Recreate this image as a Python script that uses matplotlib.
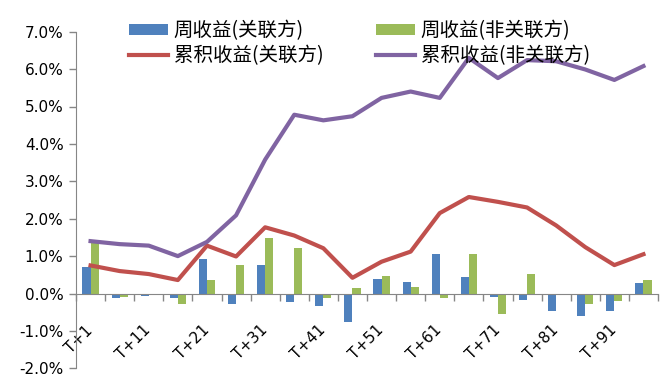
import matplotlib
matplotlib.use('Agg')
import matplotlib.pyplot as plt
import matplotlib.transforms as mtransforms
import numpy as np

plt.rcParams['font.family'] = ['DejaVu Sans', 'Noto Sans CJK SC']

categories = ["T+1", "T+6", "T+11", "T+16", "T+21", "T+26", "T+31", "T+36", "T+41", "T+46",
              "T+51", "T+56", "T+61", "T+66", "T+71", "T+76", "T+81", "T+86", "T+91", "T+96"]
weekly_related = [0.71, -0.13, -0.06, -0.13, 0.93, -0.27, 0.75, -0.22, -0.34, -0.75,
                  0.40, 0.31, 1.05, 0.43, -0.09, -0.18, -0.46, -0.59, -0.46, 0.27]
weekly_nonrelated = [1.35, -0.10, -0.02, -0.27, 0.35, 0.75, 1.49, 1.21, -0.13, 0.15,
                     0.47, 0.18, -0.13, 1.05, -0.55, 0.51, -0.01, -0.27, -0.20, 0.35]
cum_related = [0.75, 0.60, 0.52, 0.36, 1.28, 0.99, 1.77, 1.55, 1.21, 0.42,
               0.85, 1.12, 2.15, 2.58, 2.45, 2.30, 1.82, 1.24, 0.76, 1.05]
cum_nonrelated = [1.40, 1.32, 1.28, 1.00, 1.38, 2.09, 3.58, 4.78, 4.63, 4.74,
                  5.23, 5.40, 5.23, 6.30, 5.76, 6.24, 6.21, 5.99, 5.71, 6.08]
series_names = ["周收益(关联方)", "周收益(非关联方)", "累积收益(关联方)", "累积收益(非关联方)"]
yticks = [-2, -1, 0, 1, 2, 3, 4, 5, 6, 7]

BLUE = '#4F81BD'
GREEN = '#9BBB59'
RED = '#C0504D'
PURPLE = '#8064A2'
GREY = '#868686'

fig = plt.figure(figsize=(6.66, 3.87), dpi=100)
ax = fig.add_axes([76/666, 1-368.3/387, 582/666, 336.6/387])

x = np.arange(len(categories))
bw = 0.28
b1 = ax.bar(x - bw/2, weekly_related, width=bw, color=BLUE, zorder=2, label=series_names[0])
b2 = ax.bar(x + bw/2, weekly_nonrelated, width=bw, color=GREEN, zorder=2, label=series_names[1])
l1, = ax.plot(x, cum_related, color=RED, lw=3, zorder=3, solid_joinstyle='round', label=series_names[2])
l2, = ax.plot(x, cum_nonrelated, color=PURPLE, lw=3, zorder=3, solid_joinstyle='round', label=series_names[3])

ax.set_xlim(-0.5, len(categories) - 0.5)
ax.set_ylim(-2, 7)
ax.set_yticks(yticks)
ax.set_yticklabels([f"{v:.1f}%" for v in yticks], fontsize=11)

for s in ['top', 'right']:
    ax.spines[s].set_visible(False)
ax.spines['bottom'].set_position(('data', 0))
ax.spines['bottom'].set_color(GREY)
ax.spines['left'].set_color(GREY)
ax.tick_params(axis='y', colors=GREY, length=5, width=1, labelcolor='black', pad=4)

# major ticks at category boundaries, labels on minor ticks at centers
ax.set_xticks(np.arange(-0.5, len(categories), 1.0))
ax.set_xticklabels([])
ax.tick_params(axis='x', which='major', colors=GREY, length=5, width=1, direction='out')
label_pos = x[::2]
ax.set_xticks(label_pos, minor=True)
ax.set_xticklabels([categories[i] for i in label_pos], minor=True, rotation=45,
                   ha='right', va='top', fontsize=11)
ax.tick_params(axis='x', which='minor', length=0, pad=21, labelcolor='black')
offset = mtransforms.ScaledTranslation(5/100, 0, fig.dpi_scale_trans)
for lab in ax.xaxis.get_minorticklabels():
    lab.set_transform(lab.get_transform() + offset)

leg = fig.legend(handles=[b1, l1, b2, l2], labels=[series_names[0], series_names[2], series_names[1], series_names[3]],
                 ncol=2, loc='upper left', bbox_to_anchor=(129/666, 1-20/387), frameon=False,
                 prop={'family': ['Noto Sans CJK SC'], 'size': 14},
                 handlelength=2.0, handleheight=0.5, handletextpad=0.3, columnspacing=2.7,
                 labelspacing=0.2, borderpad=0, borderaxespad=0)

fig.savefig('out.png', dpi=100)
